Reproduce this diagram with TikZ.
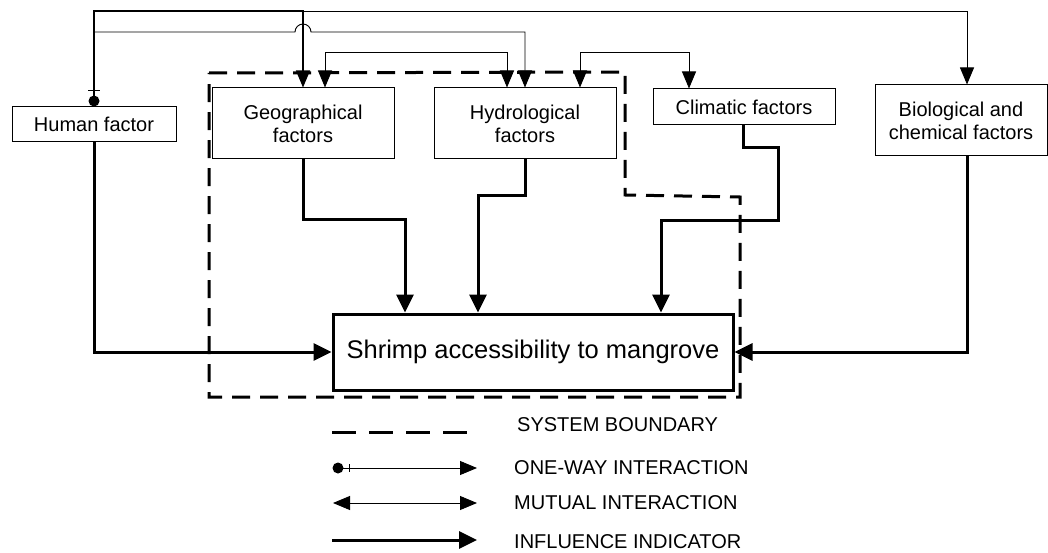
\documentclass[tikz,border=0pt]{standalone}
\usepackage{fontspec}
\setmainfont{Liberation Sans}
\usetikzlibrary{arrows.meta,calc}
\begin{document}
\begin{tikzpicture}[x=1pt,y=-1pt,
 box/.style={draw, line width=1pt, font=\fontsize{20}{23}\selectfont, align=center, inner sep=0pt},
 oneway/.style={line width=0.9pt, -{Triangle[length=17pt,width=14pt]}},
 mutual/.style={line width=0.9pt, {Triangle[length=17pt,width=14pt]}-{Triangle[length=17pt,width=14pt]}},
 infl/.style={line width=3pt, -{Triangle[length=18pt,width=17pt]}},
 bound/.style={line width=3pt, dash pattern=on 18pt off 10pt},
 leg/.style={font=\fontsize{20}{23}\selectfont, anchor=west, inner sep=0pt}
]
\useasboundingbox (0,0) rectangle (1048,553);

% system boundary
\draw[bound] (209,73) -- (625,72) -- (625,195) -- (740,197) -- (740,397) -- (209,397) -- cycle;

% nodes
\node[box, minimum width=164pt, minimum height=35pt] (hum) at (94,124.5) {Human factor};
\node[box, minimum width=182pt, minimum height=71pt] (geo) at (303,123.5) {Geographical\\factors};
\node[box, minimum width=182pt, minimum height=71pt] (hyd) at (525,123.5) {Hydrological\\factors};
\node[box, minimum width=182pt, minimum height=36pt] (cli) at (744,107) {Climatic factors};
\node[box, minimum width=172pt, minimum height=71pt] (bio) at (961,120.5) {Biological and\\chemical factors};
\node[box, line width=3pt, minimum width=400pt, minimum height=76pt, font=\fontsize{25.5}{28}\selectfont] (shr) at (533,352) {Shrimp accessibility to mangrove};

% one-way interactions from human factor
\coordinate (top1) at (94,11);
\coordinate (top2) at (94,32);
\fill (94,101) circle[radius=5.5pt];
\draw[line width=1pt] (88,91) -- (100,91);
\draw[oneway, line width=1.2pt] (hum.north) -- (top1) -| (geo.north);
\draw[oneway] (top1) -| ([xshift=6pt]bio.north);
\draw[oneway] (top2) -- ($(top2 -| geo.north)+(-8,0)$) arc[start angle=180,end angle=0,radius=8pt] -| (hyd.north);

% mutual interactions
\draw[mutual] ([xshift=22pt]geo.north) -- ++(0,-35) -| ([xshift=-18pt]hyd.north);
\draw[mutual] ([xshift=55pt]hyd.north) -- ++(0,-35) -| ([xshift=-55pt]cli.north);

% influence indicators
\draw[infl] (hum.south) |- (shr.west);
\draw[infl] (geo.south) -- ++(0,60) -| ([xshift=-128pt]shr.north);
\draw[infl] (hyd.south) -- ++(0,36) -| ([xshift=-55pt]shr.north);
\draw[infl] ([xshift=-1pt]cli.south) -- ++(0,22) -- ++(35,0) -- ++(0,73) -| ([xshift=128pt]shr.north);
\draw[infl] ([xshift=6pt]bio.south) |- (shr.east);

% legend
\coordinate (la1) at (332,432);
\coordinate (lb1) at (467,432);
\draw[line width=3pt, dash pattern=on 24pt off 13pt] (la1) -- (lb1);
\node[leg] (lt1) at (517,425) {SYSTEM BOUNDARY};

\coordinate (la2) at (338,468);
\coordinate (lb2) at (477,468);
\fill (la2) circle[radius=5.5pt];
\draw[line width=1pt] (349,464) -- (349,472);
\draw[oneway] (la2) -- (lb2);
\node[leg] (lt2) at (514,468) {ONE-WAY INTERACTION};

\coordinate (la3) at (333,503);
\coordinate (lb3) at (477,503);
\draw[mutual] (la3) -- (lb3);
\node[leg] (lt3) at (514,503) {MUTUAL INTERACTION};

\coordinate (la4) at (332,540);
\coordinate (lb4) at (477,540);
\draw[infl] (la4) -- (lb4);
\node[leg] (lt4) at (514,542) {INFLUENCE INDICATOR};
\end{tikzpicture}
\end{document}
